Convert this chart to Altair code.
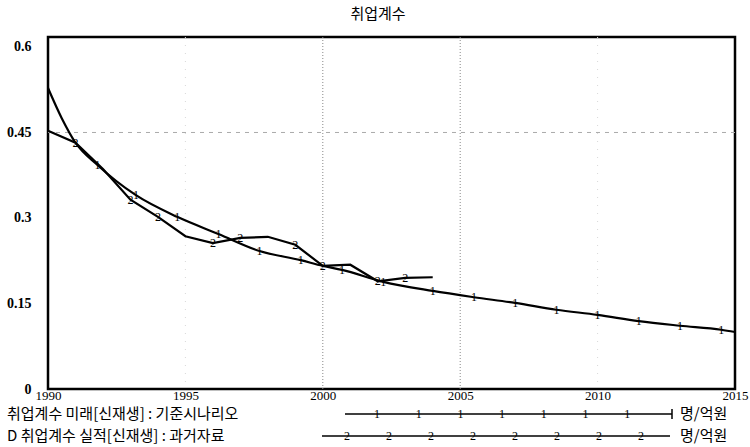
import altair as alt
import pandas as pd

# ---- data ----
title_text = "취업계수"
series1_name = "취업계수 미래[신재생] : 기준시나리오"
series2_name = "D 취업계수 실적[신재생] : 과거자료"
unit_text = "명/억원"

years1 = [1990, 1990.5, 1991, 1991.8, 1993.2, 1994.7, 1996.2, 1997.7, 1999.2, 2000,
          2000.7, 2002.2, 2004, 2005.5, 2007, 2008.5, 2010, 2011.5, 2013, 2014.5, 2015]
vals1 = [0.528, 0.475, 0.432, 0.393, 0.340, 0.302, 0.272, 0.242, 0.226, 0.216,
         0.209, 0.188, 0.172, 0.161, 0.151, 0.139, 0.130, 0.119, 0.111, 0.104, 0.100]
marker_years1 = [1991.8, 1993.2, 1994.7, 1996.2, 1997.7, 1999.2, 2000.7, 2002.2, 2004,
                 2005.5, 2007, 2008.5, 2010, 2011.5, 2013, 2014.5]

years2 = [1990, 1991, 1992, 1993, 1994, 1995, 1996, 1997, 1998, 1999, 2000, 2001, 2002, 2003, 2004]
vals2 = [0.453, 0.432, 0.386, 0.332, 0.302, 0.268, 0.256, 0.265, 0.267, 0.253, 0.216, 0.218,
         0.189, 0.195, 0.196]
marker_years2 = [1991, 1993, 1994, 1996, 1997, 1999, 2000, 2002, 2003]

x_ticks = [1990, 1995, 2000, 2005, 2010, 2015]
y_ticks = [0, 0.15, 0.3, 0.45, 0.6]
grid_years_main = [2000, 2005]
grid_years_faint = [1995, 2010]
grid_vals = [0.45]

# ---- frames ----
df1 = pd.DataFrame({"year": years1, "value": vals1})
df2 = pd.DataFrame({"year": years2, "value": vals2})
m1 = df1[df1["year"].isin(marker_years1)]
m2 = df2[df2["year"].isin(marker_years2)]

W, H = 687, 352
SERIF = "Liberation Serif"
KR = "Noto Sans CJK KR"

xs = alt.Scale(domain=[1990, 2015], nice=False, zero=False)
ys = alt.Scale(domain=[0, 0.6175], nice=False, zero=True)

x_axis = alt.Axis(values=x_ticks, format="d", grid=False, ticks=False, domain=False,
                  labelFont=SERIF, labelFontSize=13, labelColor="black", labelPadding=0,
                  title=None, labelFlush=False)
y_axis = alt.Axis(values=y_ticks, format="~g", grid=False, ticks=False, domain=False,
                  labelFont=SERIF, labelFontSize=14, labelFontWeight="bold",
                  labelColor="black", labelPadding=17, title=None)

X = alt.X("year:Q", scale=xs, axis=x_axis)
Y = alt.Y("value:Q", scale=ys, axis=y_axis)

layers = []

grid_main = alt.Chart(pd.DataFrame({"year": grid_years_main})).mark_rule(
    color="#888", strokeWidth=1, strokeDash=[1, 2]).encode(x=alt.X("year:Q", scale=xs))
grid_faint = alt.Chart(pd.DataFrame({"year": grid_years_faint})).mark_rule(
    color="#d8d8d8", strokeWidth=1, strokeDash=[1, 7]).encode(x=alt.X("year:Q", scale=xs))
grid_h = alt.Chart(pd.DataFrame({"value": grid_vals})).mark_rule(
    color="#aaa", strokeWidth=1, strokeDash=[4, 5]).encode(y=alt.Y("value:Q", scale=ys))
layers += [grid_faint, grid_main, grid_h]

line1 = alt.Chart(df1).mark_line(color="black", strokeWidth=2.2, interpolate="monotone").encode(x=X, y=Y)
line2 = alt.Chart(df2).mark_line(color="black", strokeWidth=2.2).encode(x=X, y=Y)
mk1 = alt.Chart(m1).mark_text(text="1", font=SERIF, fontSize=12, color="black",
                              baseline="middle").encode(x=X, y=Y)
mk2 = alt.Chart(m2).mark_text(text="2", font=SERIF, fontSize=12, color="black",
                              baseline="middle").encode(x=X, y=Y)
layers += [line1, line2, mk1, mk2]

one = pd.DataFrame({"a": [0]})

# title
layers.append(alt.Chart(one).mark_text(text=title_text, font=KR, fontSize=15, color="black",
                                       align="center", baseline="middle")
              .encode(x=alt.value(330), y=alt.value(-23)))

# legend (layout in pixels of the plot frame)
row_y = [377, 399]
names = [series1_name, series2_name]
for ry, nm in zip(row_y, names):
    layers.append(alt.Chart(one).mark_text(text=nm, font=KR, fontSize=15, color="black",
                                           align="left", baseline="middle")
                  .encode(x=alt.value(-41), y=alt.value(ry)))
    layers.append(alt.Chart(one).mark_text(text=unit_text, font=KR, fontSize=15, color="black",
                                           align="left", baseline="middle")
                  .encode(x=alt.value(632), y=alt.value(ry)))

layers.append(alt.Chart(one).mark_rule(color="black", strokeWidth=1.5)
              .encode(x=alt.value(297), x2=alt.value(624), y=alt.value(row_y[0])))
layers.append(alt.Chart(one).mark_rule(color="black", strokeWidth=1.5)
              .encode(x=alt.value(274), x2=alt.value(622), y=alt.value(row_y[1])))
layers.append(alt.Chart(one).mark_rule(color="black", strokeWidth=1.5)
              .encode(x=alt.value(624), y=alt.value(row_y[0] - 5), y2=alt.value(row_y[0] + 5)))
for i in range(7):
    layers.append(alt.Chart(one).mark_text(text="1", font=SERIF, fontSize=12, color="black",
                                           baseline="middle")
                  .encode(x=alt.value(329 + 41.7 * i), y=alt.value(row_y[0])))
for i in range(8):
    layers.append(alt.Chart(one).mark_text(text="2", font=SERIF, fontSize=12, color="black",
                                           baseline="middle")
                  .encode(x=alt.value(299 + 42 * i), y=alt.value(row_y[1])))

chart = alt.layer(*layers).properties(
    width=W, height=H,
    autosize=alt.AutoSizeParams(type="none"),
    padding={"left": 48, "top": 37, "right": 15, "bottom": 58},
    background="white",
).configure_view(stroke="black", strokeWidth=2.5)

chart.save("out.html", embed_options={"renderer": "svg", "actions": False})
